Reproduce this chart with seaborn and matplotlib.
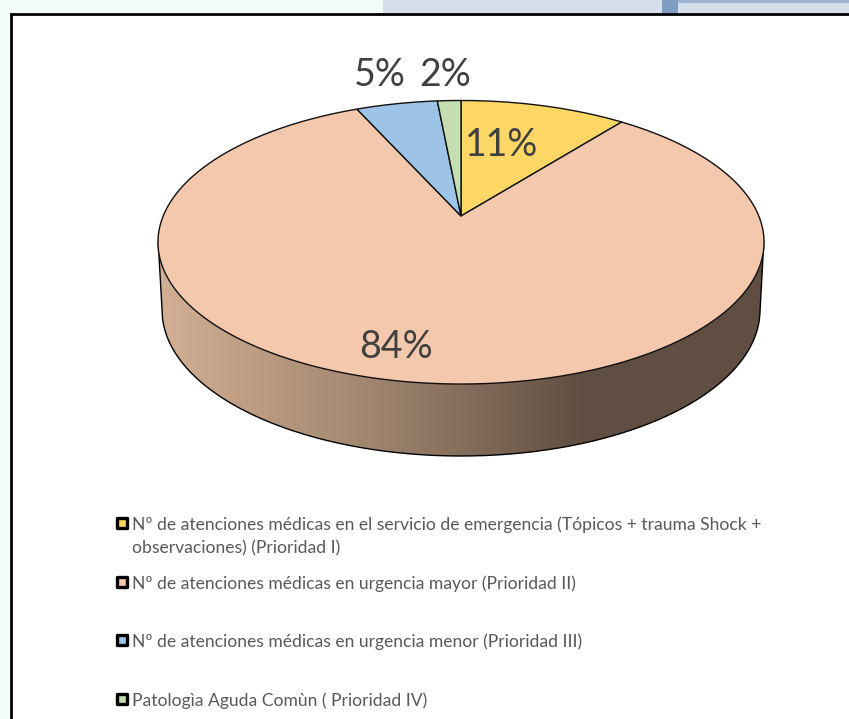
import numpy as np
import seaborn as sns
from matplotlib import pyplot as plt
from matplotlib.colors import LinearSegmentedColormap
from matplotlib.patches import Polygon, Rectangle

categories = [
    "Nº de atenciones médicas en el servicio de emergencia (Tópicos + trauma Shock +\nobservaciones) (Prioridad I)",
    "Nº de atenciones médicas en urgencia mayor (Prioridad II)",
    "Nº de atenciones médicas en urgencia menor (Prioridad III)",
    "Patologìa Aguda Comùn ( Prioridad IV)",
]
slice_sizes = [10.6, 82.7, 5.2, 1.5]
slice_labels = ["11%", "84%", "5%", "2%"]
slice_colors = ["#FCD766", "#F4C8AC", "#9DC3E6", "#C5DEB0"]
side_colors = ["#D3B095", "#BA9A80", "#A08670", "#816A59", "#5F4E41"]

# where things sit, in pixels of the 849x719 image
label_pos = [(502, 142), (396, 344), (380, 72), (445, 72)]
legend_y = [523, 582, 640, 699]
center_x, apex_y = 461, 216
radius = 297.8
scale_y, perspective = -96.9, 0.1852

sns.set_theme(style="white")
plt.rcParams['font.family'] = ['Lato', 'DejaVu Sans']


def project(u, v):
    # tilt the flat pie, the far side gets squeezed like in a 3D chart
    denom = 1 + perspective * v
    return center_x + radius * u / denom, (scale_y * v + apex_y) / denom


fig = plt.figure(figsize=(8.49, 7.19), dpi=100, facecolor="#F4FBFB")
ax = fig.add_axes([0, 0, 1, 1])

wedges, _ = ax.pie(slice_sizes, colors=sns.color_palette(slice_colors), startangle=90, counterclock=False)
slices = []
for wedge in wedges:
    theta = np.radians(np.linspace(wedge.theta1, wedge.theta2, 240))
    x, y = project(np.r_[0, np.cos(theta)], np.r_[0, np.sin(theta)])
    slices.append((np.c_[x, y], wedge.get_facecolor()))
    wedge.remove()

ax.set_aspect('auto')
ax.axis('off')

# page behind the chart
ax.add_patch(Rectangle((11, 14), 840, 710, facecolor="white", edgecolor="none", zorder=0))
ax.plot([11, 11, 849], [719, 14, 14], color="black", lw=2, solid_joinstyle="miter", zorder=1)
ax.add_patch(Rectangle((383, 0), 466, 13, facecolor="#D6DEEA", edgecolor="none", zorder=1))
ax.add_patch(Rectangle((662, 0), 16, 13, facecolor="#7F9CC2", edgecolor="none", zorder=1))
ax.add_patch(Rectangle((678, 0), 171, 3, facecolor="#9FB6D3", edgecolor="none", zorder=1))

# side of the pie
phi = np.linspace(np.pi, 0, 300)
side_x = np.r_[158.2, 461 + 299 * np.cos(phi), 763.8]
side_y = np.r_[242, 310 + 146 * np.sin(phi), 242]
side = Polygon(np.c_[side_x, side_y], closed=True, facecolor="none", edgecolor="none")
ax.add_patch(side)
side_cmap = LinearSegmentedColormap.from_list("side", side_colors)
gradient = ax.imshow(np.linspace(0, 1, 256).reshape(1, -1), cmap=side_cmap, aspect="auto",
                     extent=(158, 585, 460, 240), zorder=2)
dark = ax.add_patch(Rectangle((584, 240), 185, 220, facecolor=side_colors[-1], edgecolor="none", zorder=2))
gradient.set_clip_path(side)
dark.set_clip_path(side)
ax.plot(side_x, side_y, color="black", lw=1.0, zorder=3)

# top of the pie
for points, color in slices:
    ax.add_patch(Polygon(points, closed=True, facecolor=color, edgecolor="#111111", lw=1.0, zorder=4))

for label, (x, y) in zip(slice_labels, label_pos):
    ax.text(x, y + 2.5, label, ha="center", va="center", fontsize=27, color="#404040", zorder=5)

for name, color, y in zip(categories, slice_colors, legend_y):
    ax.add_patch(Rectangle((117.5, y - 4.7), 9.5, 9.5, facecolor=color, edgecolor="black", lw=2.4,
                           joinstyle="round", zorder=5))
    ax.text(132, y - 7, name, ha="left", va="top", fontsize=12.65, color="#595959",
            linespacing=1.6, zorder=5)

ax.set_xlim(0, 849)
ax.set_ylim(719, 0)

fig.savefig("out.png", dpi=100, facecolor=fig.get_facecolor())
